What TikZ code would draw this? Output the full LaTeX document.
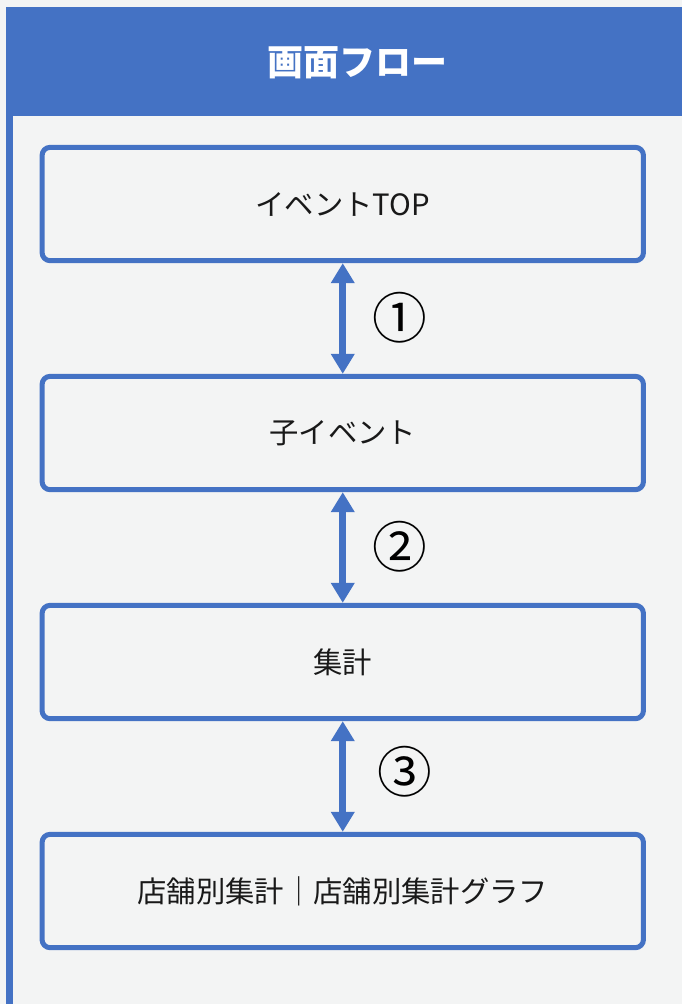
\documentclass[tikz,border=0pt]{standalone}
\usepackage{fontspec}
\setmainfont{Noto Sans CJK JP}
\usetikzlibrary{positioning,arrows.meta}

\definecolor{flowblue}{RGB}{68,114,196}
\definecolor{panelgray}{RGB}{243,244,244}

\tikzset{
  screenbox/.style={draw=flowblue, line width=3.75pt, rounded corners=6pt, fill=panelgray,
    minimum width=451pt, minimum height=85pt, inner sep=0pt, text=black!90,
    font=\fontsize{22}{26}\selectfont},
  flowarrow/.style={draw=flowblue, line width=5.5pt,
    {Triangle[width=17pt,length=15pt]}-{Triangle[width=17pt,length=15pt]}},
  steplabel/.style={inner sep=0pt, text=black, font=\fontsize{41}{46}\selectfont},
}

\begin{document}
\begin{tikzpicture}[x=0.75pt,y=0.75pt,yscale=-1,xscale=1]
\useasboundingbox (0,0) rectangle (682,1004);

%Background
\fill [panelgray] (0,0) rectangle (682,1004);
%Left rule
\draw [flowblue, line width=5.25pt] (9.5,108) -- (9.5,1004);
%Header band
\fill [flowblue] (6,7) rectangle (682,116);
% Text Node
\node (title) at (357,63) [inner sep=0pt, text=white, font=\fontsize{27}{32}\selectfont\bfseries] {画面フロー};

%Screens
\node (top) at (342.75,204) [screenbox] {イベントTOP};
\node (child) at (342.75,433) [screenbox] {子イベント};
\node (total) at (342.75,662) [screenbox] {集計};
\node (shop) at (342.75,891) [screenbox] {店舗別集計｜店舗別集計グラフ};

%Transitions
\draw [flowarrow] (top.south) -- (child.north);
\draw [flowarrow] (child.south) -- (total.north);
\draw [flowarrow] (total.south) -- (shop.north);

% Text Node
\node (step1) at (399.5,318) [steplabel] {①};
% Text Node
\node (step2) at (400,547) [steplabel] {②};
% Text Node
\node (step3) at (405,772) [steplabel] {③};

\end{tikzpicture}
\end{document}
